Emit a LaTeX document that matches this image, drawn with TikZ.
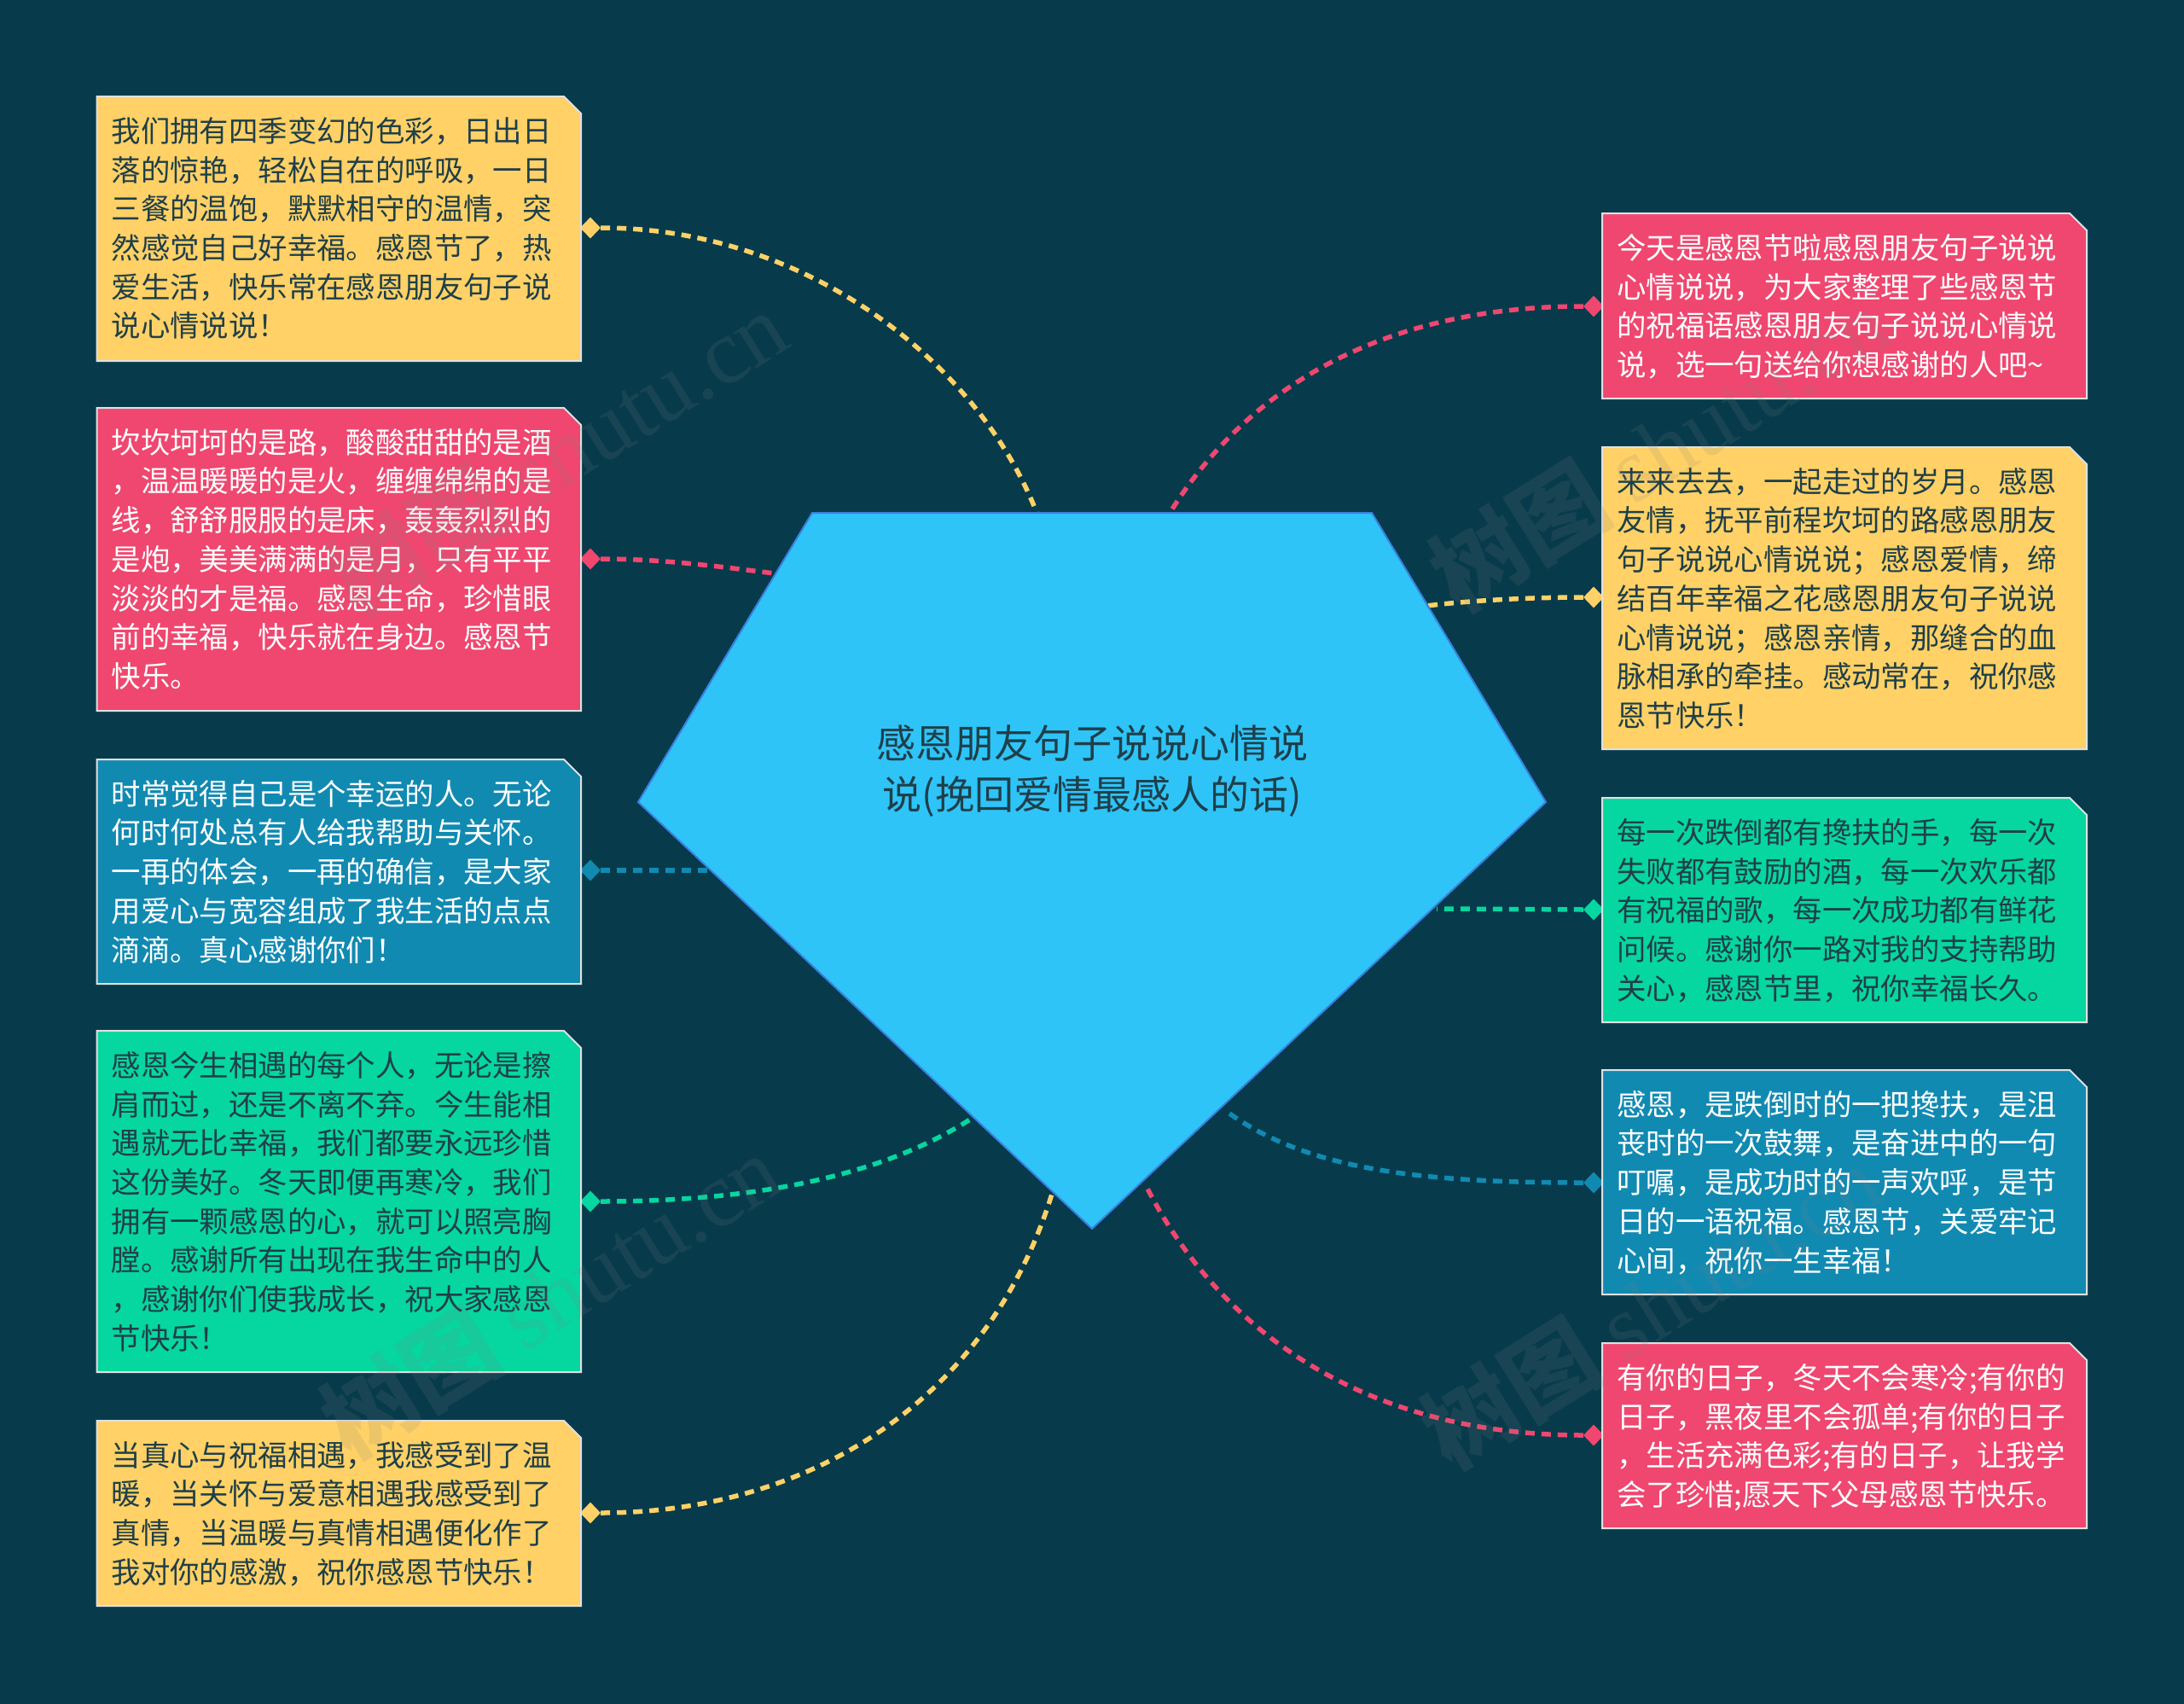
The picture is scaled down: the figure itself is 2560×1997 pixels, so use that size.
\documentclass[tikz,border=0pt]{standalone}
\usepackage{fontspec}
\setmainfont{Noto Sans CJK SC}
\newfontfamily\wmlatin{Liberation Serif}
\usetikzlibrary{shapes.geometric}
\definecolor{bgc}{HTML}{073B4C}
\definecolor{yel}{HTML}{FFD166}
\definecolor{red}{HTML}{EF476F}
\definecolor{blu}{HTML}{118AB2}
\definecolor{grn}{HTML}{06D6A0}
\definecolor{hubfill}{HTML}{2EC4F8}
\definecolor{hubline}{HTML}{3A7FE0}
\definecolor{inkc}{HTML}{1F3F49}
\tikzset{
  cardshape/.style={draw=white!88!black,line width=2pt,line join=miter},
  cardtext/.style={anchor=north west,inner sep=0pt,align=left,
    font=\fontsize{34.4}{45.7}\selectfont},
  tipmark/.style={shape=diamond,inner sep=0pt,minimum width=24pt,minimum height=25pt},
  link/.style={line width=5.5pt,dash pattern=on 11pt off 8pt},
  hubtext/.style={inner sep=0pt,align=center,text=inkc,
    font=\fontsize{46}{60.5}\selectfont},
  wmark/.style={rotate=32,text=gray,opacity=0.14,inner sep=0pt,
    font=\fontsize{108}{120}\selectfont}
}
% name, x1, y1, x2, y2, fill colour, text colour, text
\newcommand{\notecard}[8]{%
  \fill[#6,cardshape] (#2,#3) -- (#4-20,#3) -- (#4,#3+20) -- (#4,#5) -- (#2,#5) -- cycle;
  \node[cardtext,text=#7] (#1) at (#2+17,#3+24) {#8};
}
\begin{document}
\begin{tikzpicture}[x=1pt,y=-1pt]
\useasboundingbox (0,0) rectangle (2560,1997);
\fill[bgc] (0,0) rectangle (2560,1997);

% anchor points on the hub outline
\coordinate (h1) at (952,601);
\coordinate (h2) at (1608,601);
\coordinate (h3) at (1812,940);
\coordinate (h4) at (1280,1440);
\coordinate (h5) at (748,940);
\coordinate (eL1) at (1216,603);
\coordinate (eL2) at (908,672);
\coordinate (eL3) at (830,1020);
\coordinate (eL4) at (1137,1312);
\coordinate (eL5) at (1234,1396);
\coordinate (eR1) at (1370,603);
\coordinate (eR2) at (1672,710);
\coordinate (eR3) at (1684,1065);
\coordinate (eR4) at (1437,1302);
\coordinate (eR5) at (1344,1391);

% diamonds
\node[tipmark,fill=yel] (dL1) at (692,267) {};
\node[tipmark,fill=red] (dL2) at (692,655) {};
\node[tipmark,fill=blu] (dL3) at (692,1020) {};
\node[tipmark,fill=grn] (dL4) at (692,1408) {};
\node[tipmark,fill=yel] (dL5) at (692,1773) {};
\node[tipmark,fill=red] (dR1) at (1868,359) {};
\node[tipmark,fill=yel] (dR2) at (1868,700) {};
\node[tipmark,fill=grn] (dR3) at (1868,1066) {};
\node[tipmark,fill=blu] (dR4) at (1868,1386) {};
\node[tipmark,fill=red] (dR5) at (1868,1682) {};

% connectors
\draw[link,yel] (dL1.east) .. controls (950,267) and (1150,430) .. (eL1);
\draw[link,red] (dL2.east) .. controls (780,655) and (850,665) .. (eL2);
\draw[link,blu] (dL3.east) -- (eL3);
\draw[link,grn] (dL4.east) .. controls (880,1408) and (1030,1380) .. (eL4);
\draw[link,yel] (dL5.east) .. controls (950,1773) and (1160,1640) .. (eL5);
\draw[link,red] (dR1.west) .. controls (1640,359) and (1470,440) .. (eR1);
\draw[link,yel] (dR2.west) .. controls (1800,700) and (1730,703) .. (eR2);
\draw[link,grn] (dR3.west) -- (eR3);
\draw[link,blu] (dR4.west) .. controls (1660,1386) and (1530,1370) .. (eR4);
\draw[link,red] (dR5.west) .. controls (1600,1682) and (1430,1560) .. (eR5);

% hub
\draw[fill=hubfill,draw=hubline,line width=2pt,line join=miter] (h1) -- (h2) -- (h3) -- (h4) -- (h5) -- cycle;
\node[hubtext] (hub) at (1280,903.5) {感恩朋友句子说说心情说\\说(挽回爱情最感人的话)};

% left cards
\notecard{cL1}{113.5}{113}{681}{423}{yel}{inkc}{我们拥有四季变幻的色彩，日出日\\落的惊艳，轻松自在的呼吸，一日\\三餐的温饱，默默相守的温情，突\\然感觉自己好幸福。感恩节了，热\\爱生活，快乐常在感恩朋友句子说\\说心情说说！}
\notecard{cL2}{113.5}{478}{681}{833}{red}{white}{坎坎坷坷的是路，酸酸甜甜的是酒\\，温温暖暖的是火，缠缠绵绵的是\\线，舒舒服服的是床，轰轰烈烈的\\是炮，美美满满的是月，只有平平\\淡淡的才是福。感恩生命，珍惜眼\\前的幸福，快乐就在身边。感恩节\\快乐。}
\notecard{cL3}{113.5}{890}{681}{1153}{blu}{white}{时常觉得自己是个幸运的人。无论\\何时何处总有人给我帮助与关怀。\\一再的体会，一再的确信，是大家\\用爱心与宽容组成了我生活的点点\\滴滴。真心感谢你们！}
\notecard{cL4}{113.5}{1208}{681}{1608}{grn}{inkc}{感恩今生相遇的每个人，无论是擦\\肩而过，还是不离不弃。今生能相\\遇就无比幸福，我们都要永远珍惜\\这份美好。冬天即便再寒冷，我们\\拥有一颗感恩的心，就可以照亮胸\\膛。感谢所有出现在我生命中的人\\，感谢你们使我成长，祝大家感恩\\节快乐！}
\notecard{cL5}{113.5}{1665}{681}{1882}{yel}{inkc}{当真心与祝福相遇，我感受到了温\\暖，当关怀与爱意相遇我感受到了\\真情，当温暖与真情相遇便化作了\\我对你的感激，祝你感恩节快乐！}

% right cards
\notecard{cR1}{1878}{250}{2446}{467}{red}{white}{今天是感恩节啦感恩朋友句子说说\\心情说说，为大家整理了些感恩节\\的祝福语感恩朋友句子说说心情说\\说，选一句送给你想感谢的人吧\textasciitilde}
\notecard{cR2}{1878}{524}{2446}{878}{yel}{inkc}{来来去去，一起走过的岁月。感恩\\友情，抚平前程坎坷的路感恩朋友\\句子说说心情说说；感恩爱情，缔\\结百年幸福之花感恩朋友句子说说\\心情说说；感恩亲情，那缝合的血\\脉相承的牵挂。感动常在，祝你感\\恩节快乐！}
\notecard{cR3}{1878}{935}{2446}{1198}{grn}{inkc}{每一次跌倒都有搀扶的手，每一次\\失败都有鼓励的酒，每一次欢乐都\\有祝福的歌，每一次成功都有鲜花\\问候。感谢你一路对我的支持帮助\\关心，感恩节里，祝你幸福长久。}
\notecard{cR4}{1878}{1254}{2446}{1517}{blu}{white}{感恩，是跌倒时的一把搀扶，是沮\\丧时的一次鼓舞，是奋进中的一句\\叮嘱，是成功时的一声欢呼，是节\\日的一语祝福。感恩节，关爱牢记\\心间，祝你一生幸福！}
\notecard{cR5}{1878}{1574}{2446}{1791}{red}{white}{有你的日子，冬天不会寒冷;有你的\\日子，黑夜里不会孤单;有你的日子\\，生活充满色彩;有的日子，让我学\\会了珍惜;愿天下父母感恩节快乐。}

% watermarks
\node[wmark] (w1) at (653,530) {\bfseries 树图 {\wmlatin\mdseries shutu.cn}};
\node[wmark] (w2) at (1945,525) {\bfseries 树图 {\wmlatin\mdseries shutu.cn}};
\node[wmark] (w3) at (645,1518) {\bfseries 树图 {\wmlatin\mdseries shutu.cn}};
\node[wmark] (w4) at (1935,1530) {\bfseries 树图 {\wmlatin\mdseries shutu.cn}};
\end{tikzpicture}
\end{document}
